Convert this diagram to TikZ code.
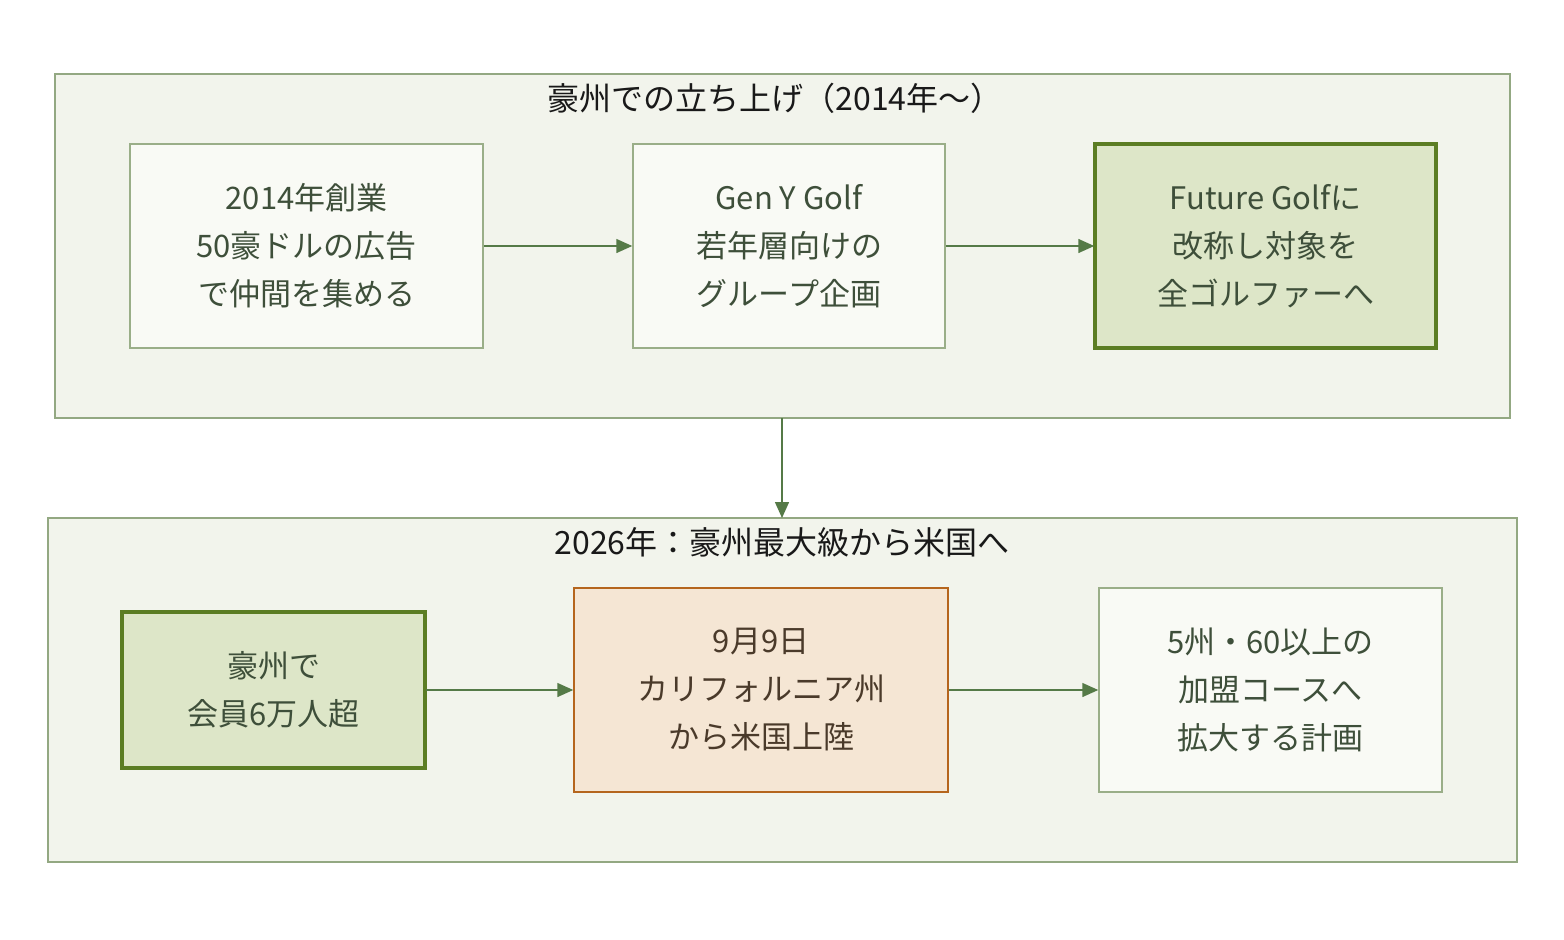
\documentclass[tikz,border=0pt]{standalone}
\usepackage{fontspec}
\setmainfont{Noto Sans CJK JP}
\usetikzlibrary{arrows.meta}
\definecolor{clfill}{HTML}{F2F4EC}
\definecolor{cldraw}{HTML}{93A882}
\definecolor{ndfill}{HTML}{F9FAF5}
\definecolor{nddraw}{HTML}{9AAE88}
\definecolor{hlfill}{HTML}{DDE6C8}
\definecolor{hldraw}{HTML}{5B7D23}
\definecolor{orfill}{HTML}{F5E6D4}
\definecolor{ordraw}{HTML}{B5651D}
\definecolor{arr}{HTML}{557A47}
\definecolor{txt}{HTML}{3E4F3A}
\definecolor{ortxt}{HTML}{4A3A2A}
\tikzset{
  cluster/.style={draw=cldraw,fill=clfill,line width=1.5pt},
  box/.style={draw=nddraw,fill=ndfill,line width=1.5pt,text=txt,align=center,
    font=\fontsize{31}{48}\selectfont},
  hlbox/.style={box,draw=hldraw,fill=hlfill,line width=3.5pt},
  orbox/.style={box,draw=ordraw,fill=orfill,text=ortxt},
  label/.style={box,draw=none,fill=none,inner sep=0pt},
  title/.style={font=\fontsize{32}{36}\selectfont,text=black!90},
  conn/.style={draw=arr,line width=1.5pt,-{Triangle[length=16pt,width=14pt]}},
}
\begin{document}
\begin{tikzpicture}[x=1pt,y=-1pt]
\useasboundingbox (0,0) rectangle (1564,940);
% clusters
\draw[cluster] (55,74) rectangle (1510,418);
\node[title] (t1) at (775,98) {豪州での立ち上げ（2014年〜）};
\draw[cluster] (48,518) rectangle (1517,862);
\node[title] (t2) at (782,542) {2026年：豪州最大級から米国へ};
\coordinate (c1b) at (782,418);
\coordinate (c2t) at (782,518);
% top nodes
\path[box] (130,144) rectangle (483,348);
\node[label,minimum width=353pt,minimum height=204pt] (a) at (306.5,246) {2014年創業\\50豪ドルの広告\\で仲間を集める};
\path[box] (633,144) rectangle (945,348);
\node[label,minimum width=312pt,minimum height=204pt] (b) at (789,246) {Gen Y Golf\\若年層向けの\\グループ企画};
\path[hlbox] (1095,144) rectangle (1436,348);
\node[label,minimum width=341pt,minimum height=204pt] (c) at (1265.5,246) {Future Golfに\\改称し対象を\\全ゴルファーへ};
% bottom nodes
\path[hlbox] (122,612) rectangle (425,768);
\node[label,minimum width=303pt,minimum height=156pt] (d) at (273.5,690) {豪州で\\会員6万人超};
\path[orbox] (574,588) rectangle (948,792);
\node[label,text=ortxt,minimum width=374pt,minimum height=204pt] (e) at (761,690) {9月9日\\カリフォルニア州\\から米国上陸};
\path[box] (1099,588) rectangle (1442,792);
\node[label,minimum width=343pt,minimum height=204pt] (f) at (1270.5,690) {5州・60以上の\\加盟コースへ\\拡大する計画};
% connectors
\draw[conn] (a.east) -- (b.west);
\draw[conn] (b.east) -- (c.west);
\draw[conn] (c1b) -- (c2t);
\draw[conn] (d.east) -- (e.west);
\draw[conn] (e.east) -- (f.west);
\end{tikzpicture}
\end{document}
